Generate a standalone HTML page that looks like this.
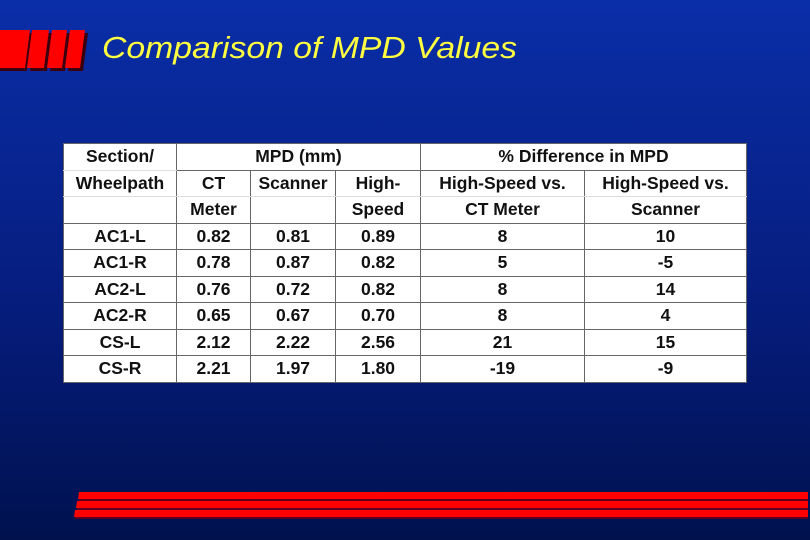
<!DOCTYPE html>
<html><head><meta charset="utf-8"><style>
body{margin:0;width:810px;height:540px;overflow:hidden;background:linear-gradient(#0a2ea8,#061d7e 55%,#00114e);font-family:"Liberation Sans",Arial,sans-serif;position:relative}
table{position:absolute;left:63px;top:143px;border-collapse:collapse;background:#fff;table-layout:fixed}
td{border:1px solid #666;font-weight:bold;font-size:17.5px;color:#111;text-align:center;height:25.5px;padding:0;white-space:nowrap}
.nb{border-bottom:1px solid #ddd}
.nt{border-top:1px solid #ddd}
</style></head><body>
<svg width="810" height="540" style="position:absolute;left:0;top:0">
<g>
<polygon points="3,33 32,33 27,71 -2,71" fill="#3a0010"/>
<polygon points="35,33 52,33 47,71 30,71" fill="#3a0010"/>
<polygon points="55,33 70,33 65,71 50,71" fill="#3a0010"/>
<polygon points="73,33 88,33 83,71 68,71" fill="#3a0010"/>
<polygon points="0,30 30,30 25,68 -5,68" fill="#f00"/>
<polygon points="32,30 49,30 44,68 27,68" fill="#f00"/>
<polygon points="52,30 67,30 62,68 47,68" fill="#f00"/>
<polygon points="70,30 85,30 80,68 65,68" fill="#f00"/>
</g>
<text x="102" y="58" font-size="31" font-style="italic" fill="#ffff40" textLength="415" lengthAdjust="spacingAndGlyphs" font-family="Liberation Sans, sans-serif">Comparison of MPD Values</text>
<g>
<polygon points="80,494 808,494 808,501 79,501" fill="#600020"/>
<polygon points="78,503 808,503 808,510 77,510" fill="#600020"/>
<polygon points="76,512 808,512 808,519 75,519" fill="#600020"/>
<polygon points="79,492 808,492 808,499 78,499" fill="#f00"/>
<polygon points="77,501 808,501 808,508 76,508" fill="#f00"/>
<polygon points="75,510 808,510 808,517 74,517" fill="#f00"/>
</g>
</svg>
<table>
<colgroup><col style="width:113px"><col style="width:74px"><col style="width:85px"><col style="width:85px"><col style="width:164px"><col style="width:162px"></colgroup>
<tr><td class="nb">Section/</td><td colspan="3">MPD (mm)</td><td colspan="2">% Difference in MPD</td></tr>
<tr><td class="nb nt">Wheelpath</td><td class="nb">CT</td><td class="nb">Scanner</td><td class="nb">High-</td><td class="nb">High-Speed vs.</td><td class="nb">High-Speed vs.</td></tr>
<tr><td class="nt"></td><td class="nt">Meter</td><td class="nt"></td><td class="nt">Speed</td><td class="nt">CT Meter</td><td class="nt">Scanner</td></tr>
<tr><td>AC1-L</td><td>0.82</td><td>0.81</td><td>0.89</td><td>8</td><td>10</td></tr>
<tr><td>AC1-R</td><td>0.78</td><td>0.87</td><td>0.82</td><td>5</td><td>-5</td></tr>
<tr><td>AC2-L</td><td>0.76</td><td>0.72</td><td>0.82</td><td>8</td><td>14</td></tr>
<tr><td>AC2-R</td><td>0.65</td><td>0.67</td><td>0.70</td><td>8</td><td>4</td></tr>
<tr><td>CS-L</td><td>2.12</td><td>2.22</td><td>2.56</td><td>21</td><td>15</td></tr>
<tr><td>CS-R</td><td>2.21</td><td>1.97</td><td>1.80</td><td>-19</td><td>-9</td></tr>
</table>
</body></html>
